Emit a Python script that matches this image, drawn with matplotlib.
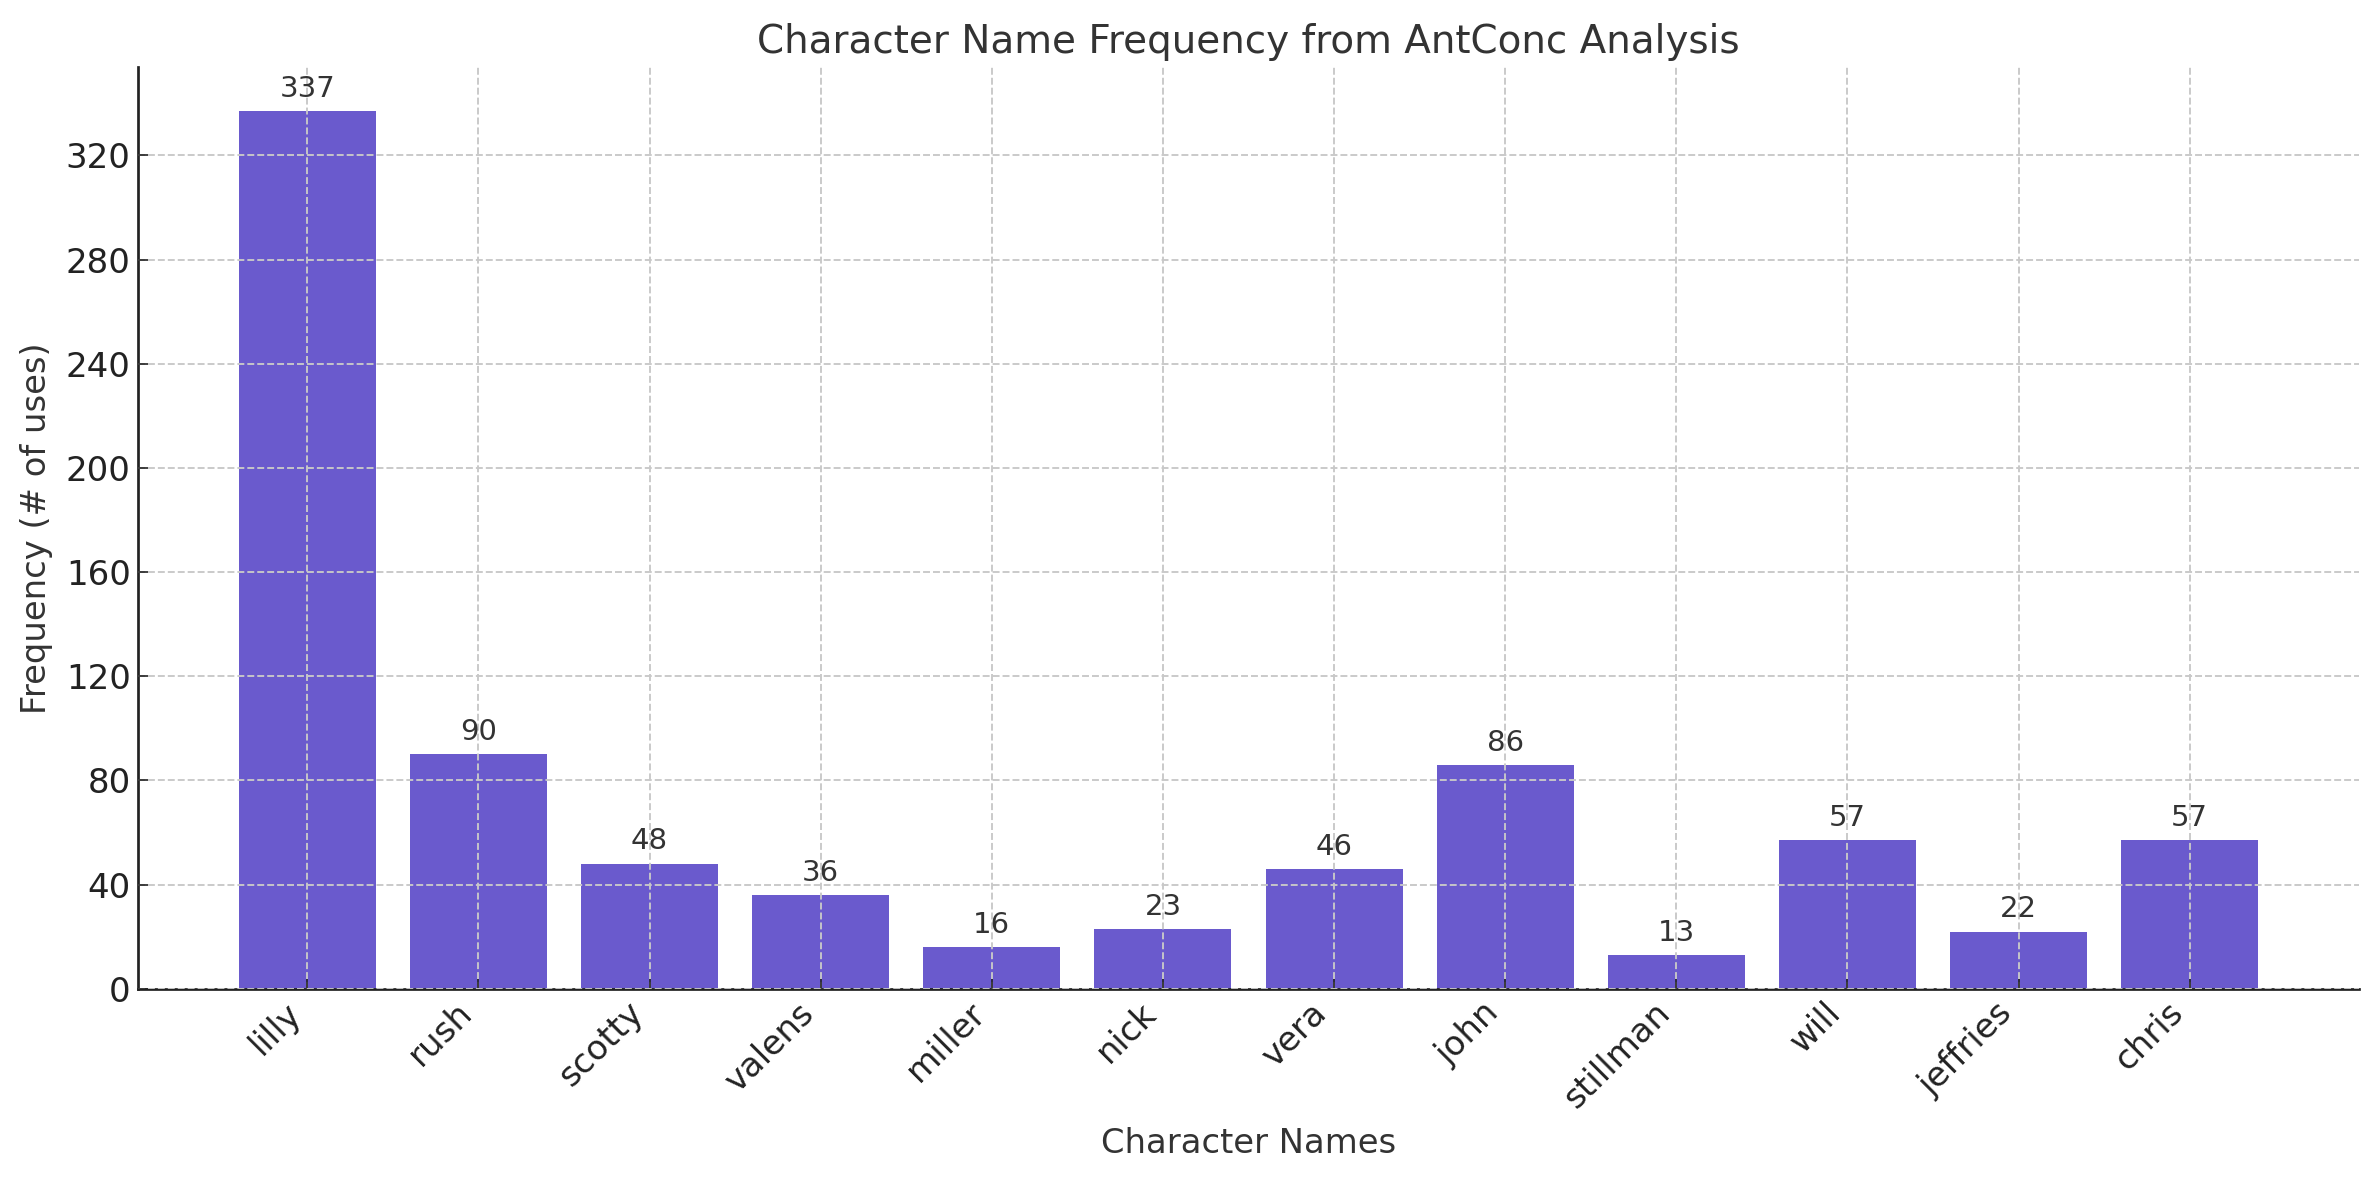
import numpy as np
import matplotlib.pyplot as plt

names = ["lilly", "rush", "scotty", "valens", "miller", "nick", "vera",
         "john", "stillman", "will", "jeffries", "chris"]
counts = [337, 90, 48, 36, 16, 23, 46, 86, 13, 57, 22, 57]
yticks = [0, 40, 80, 120, 160, 200, 240, 280, 320]

txt = "#333333"
plt.rcParams["text.color"] = txt
plt.rcParams["axes.labelcolor"] = txt

fig = plt.figure(figsize=(2379 / 150, 1180 / 150), dpi=150)
ax = fig.add_axes([0.058, 0.162, 0.9336, 0.781])

bars = ax.bar(names, counts, color="#6a5acd", width=0.8)
for b, v in zip(bars, counts):
    ax.annotate(str(v), (b.get_x() + b.get_width() / 2, v),
                xytext=(0, 4), textcoords="offset points",
                ha="center", va="bottom", fontsize=14, color=txt)

ax.set_yticks(yticks)
ax.grid(True, linestyle="--", color="#c8c8c8", linewidth=0.9)
ax.set_axisbelow(False)
for s in ["top", "right"]:
    ax.spines[s].set_visible(False)
for s in ["left", "bottom"]:
    ax.spines[s].set_color("#222222")
    ax.spines[s].set_linewidth(1.3)
ax.tick_params(direction="in", labelsize=16.3, colors="#222222", length=5)
plt.setp(ax.get_xticklabels(), rotation=45, ha="right")

ax.set_title("Character Name Frequency from AntConc Analysis", fontsize=18.7, pad=7)
ax.set_xlabel("Character Names", fontsize=16.2, labelpad=6)
ax.set_ylabel("Frequency (# of uses)", fontsize=16.2, labelpad=6)

fig.savefig("out.png", dpi=150)
